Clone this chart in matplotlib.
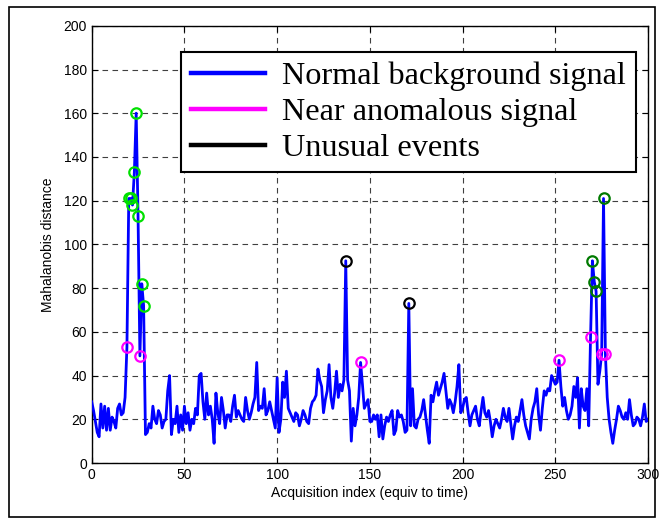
import numpy as np
import matplotlib
matplotlib.use("Agg")
import matplotlib.pyplot as plt
from matplotlib.lines import Line2D
from matplotlib.patches import Rectangle

# Mahalanobis distance per acquisition index 0..300
dist = [
    28, 24, 19, 14, 12, 27, 16, 26, 15, 25, 15, 21, 19, 16, 25, 27, 22, 23, 30,      # 0-18
    53, 121, 121, 118, 133, 160, 113, 49, 82, 72, 13,                                # 19-29
    14, 18, 16, 26, 20, 18, 24, 22, 16, 19, 20, 33, 40, 13, 20, 18, 26, 14, 22, 15,  # 30-49
    26, 18, 23, 15, 20, 18, 25, 22, 40, 41, 28, 20, 32, 22, 26, 20, 9, 32, 23, 18,   # 50-69
    30, 24, 16, 22, 22, 19, 26, 31, 21, 24, 22, 20, 19, 30, 24, 20, 23, 27, 30, 46,  # 70-89
    24, 26, 25, 34, 22, 24, 28, 24, 20, 16, 39, 14, 20, 37, 30, 42, 25, 23, 21, 19,  # 90-109
    23, 22, 17, 20, 24, 22, 19, 18, 25, 28, 29, 31, 43, 38, 35, 23, 29, 33, 45, 30,  # 110-129
    25, 32, 42, 30, 36, 33, 38, 92.5, 38, 33, 10, 25, 17, 22, 30, 46, 36, 25, 27, 29, # 130-149
    19, 19, 22, 20, 22, 12, 22, 11, 17, 21, 19, 22, 24, 13, 15, 24, 21, 22, 19, 14,  # 150-169
    15, 73, 17, 34, 17, 16, 20, 21, 24, 29, 22, 15, 9, 31, 28, 33, 37, 31, 34, 37,   # 170-189
    41, 33, 25, 29, 27, 23, 28, 35, 45, 23, 25, 29, 30, 23, 17, 22, 24, 26, 20, 17,  # 190-209
    24, 30, 23, 21, 24, 19, 12, 17, 20, 18, 16, 20, 25, 21, 19, 25, 18, 11, 17, 21,  # 210-229
    19, 24, 29, 22, 17, 14, 11, 20, 25, 28, 34, 22, 15, 25, 33, 31, 34, 33, 40, 38,  # 230-249
    36, 37, 47, 35, 26, 30, 24, 20, 22, 26, 35, 30, 39, 16, 34, 26, 24, 34, 17, 57.5,# 250-269
    92.5, 83, 78.5, 36, 42, 50, 121, 50, 30, 20, 14, 9, 15, 20, 26, 24, 21, 20, 23, 20, # 270-289
    29, 22, 17, 18, 21, 20, 17, 21, 27, 19, 20,                                      # 290-300
]
idx = np.arange(len(dist))

near_idx = [19, 26, 145, 252, 269, 275, 277]
green_idx = [20, 21, 22, 23, 24, 25, 27, 28]
dkgreen_idx = [270, 271, 272, 276]
event_idx = [137, 171]

legend_labels = ["Normal background signal", "Near anomalous signal", "Unusual events"]

d = np.array(dist)

fig = plt.figure(figsize=(6.62, 5.23), dpi=100)
ax = fig.add_axes([0.1385, 0.1147, 0.8404, 0.836])

ax.plot(idx, d, color="blue", lw=2.0, zorder=3)
ms = 7.5
ax.plot(near_idx, d[near_idx], "o", mfc="none", mec="magenta", ms=ms, mew=1.6, zorder=4)
ax.plot(green_idx, d[green_idx], "o", mfc="none", mec="#00e000", ms=ms, mew=1.6, zorder=4)
ax.plot(dkgreen_idx, d[dkgreen_idx], "o", mfc="none", mec="#007a00", ms=ms, mew=1.6, zorder=4)
ax.plot(event_idx, d[event_idx], "o", mfc="none", mec="black", ms=ms, mew=1.6, zorder=4)

ax.set_xlim(0, 300)
ax.set_ylim(0, 200)
ax.set_xticks(np.arange(0, 301, 50))
ax.set_yticks(np.arange(0, 201, 20))
ax.grid(True, color="0.25", ls=(0, (5, 4)), lw=0.8)
ax.tick_params(direction="in", top=True, right=True, length=4, labelsize=10)
for lab in ax.get_xticklabels() + ax.get_yticklabels():
    lab.set_family("Liberation Sans")
for s in ax.spines.values():
    s.set_linewidth(1.0)

ax.set_xlabel("Acquisition index (equiv to time)", fontsize=10, family="Liberation Sans", labelpad=3)
ax.set_ylabel("Mahalanobis distance", fontsize=10, family="Liberation Sans", labelpad=6)

handles = [Line2D([], [], color=c, lw=3.2) for c in ["blue", "magenta", "black"]]
leg = ax.legend(handles, legend_labels, loc="upper right", bbox_to_anchor=(0.978, 0.941),
                prop={"family": "Liberation Serif", "size": 23.2}, fancybox=False,
                framealpha=1, edgecolor="black", handlelength=2.3, handletextpad=0.55,
                labelspacing=0.2, borderpad=0.3, borderaxespad=0)
leg.get_frame().set_linewidth(1.5)
leg.set_zorder(5)

fig.patches.append(Rectangle((9 / 662, 6 / 523), 646 / 662, 510 / 523, transform=fig.transFigure,
                             fill=False, edgecolor="black", lw=1.2))

fig.savefig("out.png", dpi=100)
